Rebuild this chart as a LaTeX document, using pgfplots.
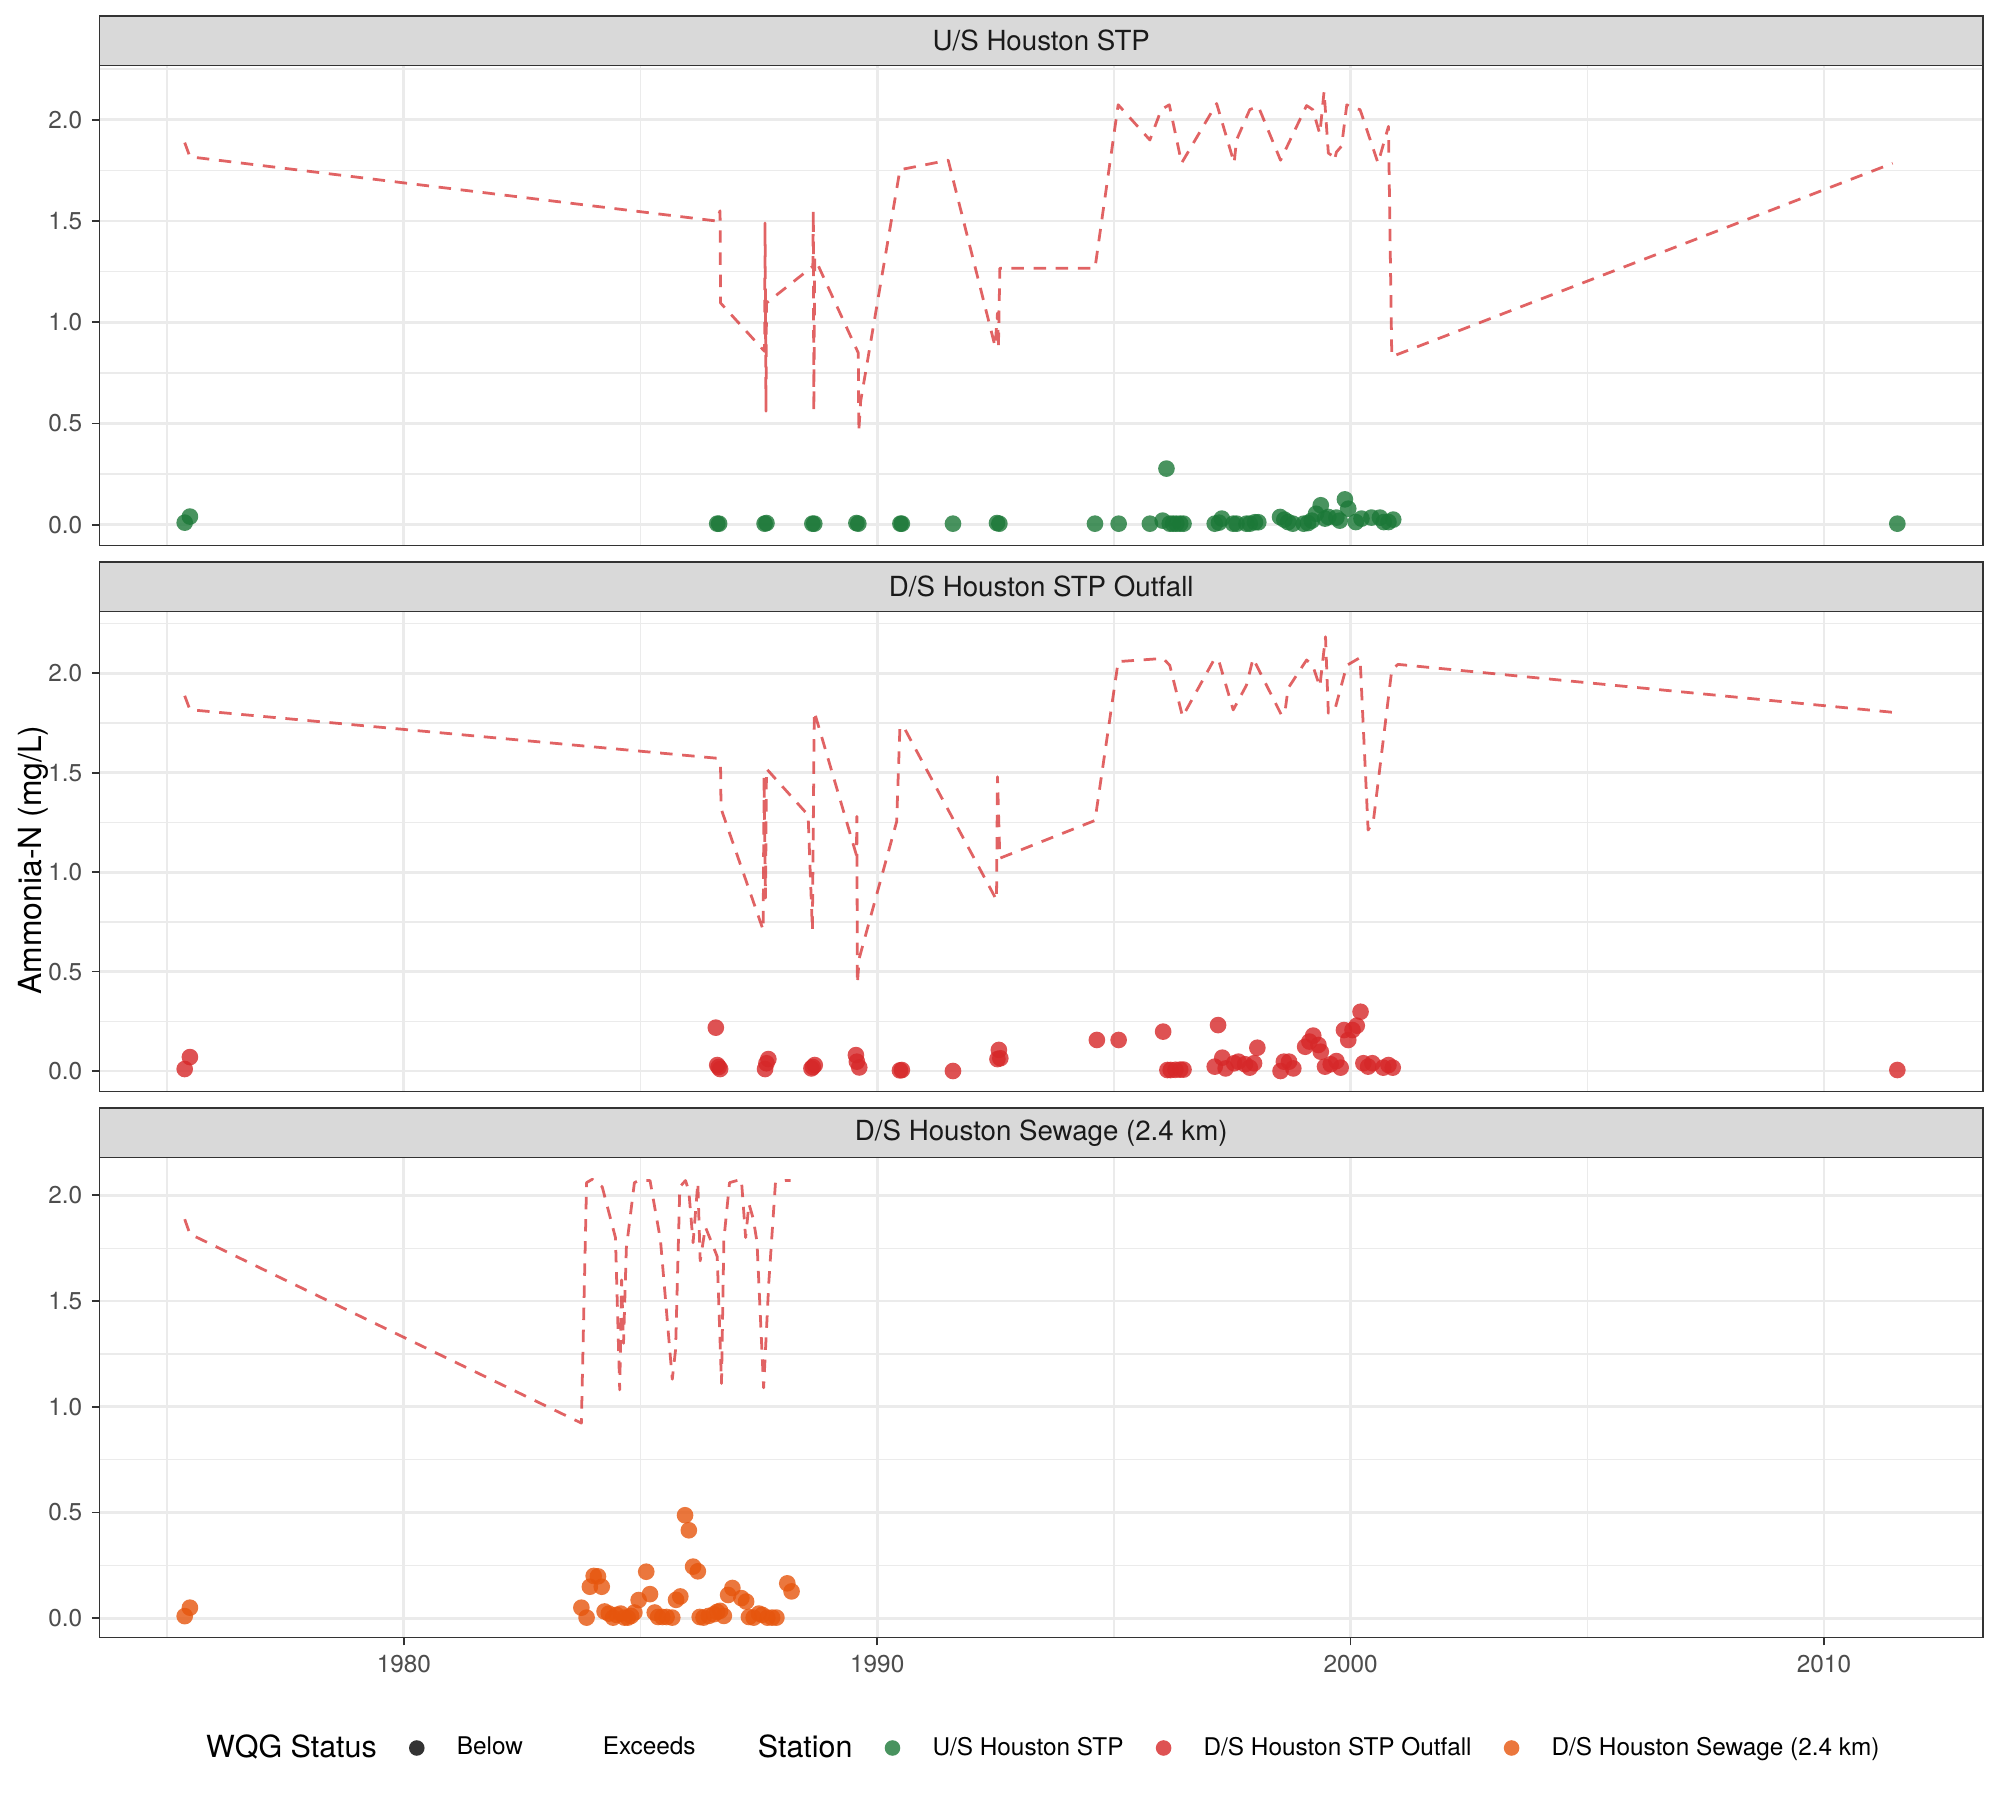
\documentclass[border=0pt]{standalone}
\usepackage{fontspec}
\setmainfont{TeX Gyre Heros}
\usepackage{pgfplots}
\pgfplotsset{compat=1.18}
\definecolor{grey10}{HTML}{1A1A1A}
\definecolor{grey20}{HTML}{333333}
\definecolor{grey30}{HTML}{4D4D4D}
\definecolor{grey85}{HTML}{D9D9D9}
\definecolor{grey92}{HTML}{EBEBEB}
\definecolor{usgreen}{HTML}{1B7837}
\definecolor{dsred}{HTML}{D62728}
\definecolor{sworange}{HTML}{E6550D}
\definecolor{wqgline}{HTML}{D62728}
\pgfplotsset{
  panel/.style={
    scale only axis, width=678.06bp, height=172.8bp, anchor=south west,
    xmin=1973.57, xmax=2013.36,
    axis line style={draw=grey20, line width=0.55pt},
    grid=both,
    major grid style={draw=grey92, line width=1pt},
    minor grid style={draw=grey92, line width=0.5pt},
    xtick={1980,1990,2000,2010},
    minor xtick={1975,1985,1995,2005},
    ytick={0,0.5,1,1.5,2},
    yticklabels={0.0,0.5,1.0,1.5,2.0},
    minor tick length=0pt,
    major tick length=2.75pt,
    tick align=outside,
    tick pos=left,
    tick style={draw=grey20, line width=0.6pt},
    tick label style={font=\fontsize{8.8}{10}\selectfont, text=grey30},
  },
  wqg/.style={color=wqgline, opacity=0.72, line width=1pt, dash pattern=on 4.5pt off 3.5pt, no markers, line cap=butt, line join=round},
  pts/.style={only marks, mark=*, mark size=3bp, mark options={fill=#1, draw=#1, fill opacity=0.8, draw opacity=0, line width=0pt}},
  dotkey/.style={legend image code/.code={\path[draw=none, fill=none] (0bp,0bp) -- (28.8bp,0bp); \path[draw=none, fill=#1, fill opacity=0.8] (14.4bp,0bp) circle (2.8bp);}},
  blankkey/.style={legend image code/.code={\path[draw=none, fill=none] (0bp,0bp) -- (28.8bp,0bp);}},
  nokey/.style={legend image code/.code={}},
}
\begin{document}
\begin{tikzpicture}
\useasboundingbox (0,0) rectangle (720bp,648bp);

% ---------------- Top panel: U/S Houston STP
\begin{axis}[panel, at={(35.82bp,451.55bp)}, ymin=-0.1037, ymax=2.267,
  minor ytick={0.25,0.75,1.25,1.75,2.25}, xticklabels={}, xtick style={draw=none}]
\addplot[wqg] coordinates {
(1975.37,1.887) (1975.48,1.817) (1986.60,1.50) (1986.68,1.55) (1986.69,1.095)
(1987.62,0.856) (1987.63,1.49) (1987.65,0.56) (1987.66,1.095) (1988.64,1.276)
(1988.65,1.55) (1988.66,0.56) (1988.68,1.317) (1989.60,0.848) (1989.61,0.46)
(1989.65,0.61) (1990.48,1.753) (1991.50,1.80) (1992.49,0.88) (1992.54,1.045)
(1992.56,0.87) (1992.59,1.267) (1994.60,1.267) (1995.09,2.074) (1995.76,1.90)
(1996.00,2.05) (1996.17,2.074) (1996.43,1.786) (1997.17,2.08) (1997.54,1.786)
(1997.59,1.90) (1997.87,2.05) (1998.05,2.066) (1998.52,1.80) (1999.07,2.07)
(1999.20,2.05) (1999.35,1.93) (1999.44,2.14) (1999.53,1.835) (1999.63,1.82)
(1999.66,1.80) (1999.70,1.84) (1999.81,1.87) (1999.92,2.074) (2000.02,2.06)
(2000.20,2.05) (2000.58,1.786) (2000.80,1.967) (2000.87,0.83) (2011.45,1.785)
};
\addplot[pts=usgreen] coordinates {
(1975.37,0.01) (1975.48,0.04) (1986.62,0.005) (1986.66,0.005) (1987.62,0.005)
(1987.66,0.008) (1988.63,0.005) (1988.67,0.005) (1989.56,0.008) (1989.60,0.005)
(1990.49,0.005) (1990.52,0.005) (1991.60,0.005) (1992.53,0.008) (1992.58,0.005)
(1994.60,0.005) (1995.10,0.005) (1995.76,0.005) (1996.03,0.02) (1996.11,0.277)
(1996.18,0.005) (1996.25,0.005) (1996.32,0.005) (1996.40,0.005) (1996.47,0.005)
(1997.13,0.005) (1997.22,0.01) (1997.28,0.03) (1997.52,0.005) (1997.59,0.005)
(1997.80,0.005) (1997.87,0.005) (1997.98,0.012) (1998.05,0.012) (1998.51,0.038)
(1998.60,0.025) (1998.68,0.013) (1998.78,0.005) (1999.01,0.005) (1999.10,0.008)
(1999.18,0.02) (1999.27,0.054) (1999.37,0.096) (1999.46,0.03) (1999.53,0.038)
(1999.70,0.035) (1999.77,0.02) (1999.88,0.125) (1999.95,0.079) (2000.11,0.013)
(2000.23,0.03) (2000.44,0.035) (2000.62,0.035) (2000.70,0.013) (2000.80,0.013)
(2000.90,0.025) (2011.55,0.005)
};
\end{axis}

% ---------------- Middle panel: D/S Houston STP Outfall
\begin{axis}[panel, at={(35.82bp,254.99bp)}, ymin=-0.104, ymax=2.310,
  minor ytick={0.25,0.75,1.25,1.75,2.25}, xticklabels={}, xtick style={draw=none}]
\addplot[wqg] coordinates {
(1975.37,1.887) (1975.48,1.817) (1986.61,1.573) (1986.69,1.539) (1986.70,1.32)
(1987.59,0.709) (1987.61,1.48) (1987.64,0.87) (1987.66,1.52) (1988.54,1.287)
(1988.63,0.709) (1988.67,1.807) (1989.56,1.086) (1989.57,1.28) (1989.58,0.44)
(1989.62,0.567) (1990.41,1.254) (1990.48,1.732) (1990.56,1.73) (1992.52,0.86)
(1992.54,1.48) (1992.59,1.07) (1994.60,1.26) (1995.09,2.059) (1996.04,2.075)
(1996.18,2.04) (1996.45,1.782) (1997.13,2.075) (1997.22,2.06) (1997.52,1.816)
(1997.80,1.94) (1997.94,2.075) (1998.54,1.79) (1998.61,1.80) (1998.68,1.925)
(1999.07,2.067) (1999.20,2.04) (1999.35,1.933) (1999.47,2.184) (1999.53,1.80)
(1999.67,1.82) (1999.92,2.04) (2000.20,2.079) (2000.37,1.212) (2000.48,1.254)
(2000.87,2.017) (2001.00,2.045) (2011.45,1.804)
};
\addplot[pts=dsred] coordinates {
(1975.37,0.01) (1975.48,0.07) (1986.59,0.218) (1986.62,0.03) (1986.65,0.02)
(1986.68,0.01) (1987.63,0.01) (1987.66,0.039) (1987.70,0.06) (1988.61,0.013)
(1988.64,0.02) (1988.68,0.03) (1989.55,0.08) (1989.57,0.047) (1989.62,0.018)
(1990.48,0.003) (1990.52,0.005) (1991.60,0.0) (1992.54,0.06) (1992.57,0.106)
(1992.60,0.064) (1994.64,0.156) (1995.10,0.156) (1996.04,0.198) (1996.13,0.005)
(1996.20,0.005) (1996.30,0.006) (1996.40,0.007) (1996.47,0.007) (1997.13,0.022)
(1997.20,0.231) (1997.29,0.067) (1997.36,0.013) (1997.54,0.039) (1997.63,0.047)
(1997.77,0.034) (1997.87,0.017) (1997.96,0.039) (1998.03,0.117) (1998.52,0.0)
(1998.59,0.047) (1998.70,0.047) (1998.79,0.013) (1999.04,0.122) (1999.13,0.148)
(1999.21,0.178) (1999.32,0.131) (1999.37,0.097) (1999.46,0.022) (1999.58,0.034)
(1999.70,0.05) (1999.79,0.017) (1999.86,0.206) (1999.95,0.156) (2000.04,0.206)
(2000.13,0.228) (2000.21,0.298) (2000.27,0.039) (2000.37,0.022) (2000.46,0.039)
(2000.69,0.017) (2000.80,0.03) (2000.89,0.017) (2011.55,0.005)
};
\end{axis}

% ---------------- Bottom panel: D/S Houston Sewage (2.4 km)
\begin{axis}[panel, at={(35.82bp,58.43bp)}, ymin=-0.092, ymax=2.178,
  minor ytick={0.25,0.75,1.25,1.75},
  xticklabels={1980,1990,2000,2010},
  legend columns=-1,
  legend cell align=left,
  legend style={draw=none, fill=none, inner sep=0pt, outer sep=0pt,
    at={(0.0566,-0.2298)}, anchor=west,
    font=\fontsize{8.8}{10}\selectfont,
    nodes={inner sep=0pt, outer sep=0pt},
    /tikz/column sep=0pt,
    /tikz/every even column/.style={column sep=0pt},
    /tikz/every odd column/.style={column sep=0pt}},
]
\addlegendimage{nokey}
\addlegendentry{\fontsize{11}{13}\selectfont WQG Status}
\addlegendimage{dotkey=black}
\addlegendentry{Below}
\addlegendimage{blankkey}
\addlegendentry{Exceeds\hspace*{22.4bp}}
\addlegendimage{nokey}
\addlegendentry{\fontsize{11}{13}\selectfont Station}
\addlegendimage{dotkey=usgreen}
\addlegendentry{U/S Houston STP}
\addlegendimage{dotkey=dsred}
\addlegendentry{D/S Houston STP Outfall}
\addlegendimage{dotkey=sworange}
\addlegendentry{D/S Houston Sewage (2.4 km)}
\addplot[wqg, forget plot] coordinates {
(1975.37,1.887) (1975.48,1.817) (1983.75,0.923) (1983.86,2.06) (1983.98,2.076)
(1984.19,2.04) (1984.47,1.80) (1984.52,1.40) (1984.56,1.08) (1984.60,1.60)
(1984.64,1.30) (1984.70,1.75) (1984.87,2.06) (1984.96,2.07) (1985.20,2.07)
(1985.42,1.79) (1985.67,1.13) (1985.74,1.27) (1985.83,2.04) (1985.95,2.07)
(1986.02,2.02) (1986.11,1.776) (1986.21,2.06) (1986.26,1.69) (1986.37,1.85)
(1986.55,1.75) (1986.62,1.71) (1986.71,1.11) (1986.76,1.79) (1986.88,2.06)
(1987.13,2.076) (1987.22,1.80) (1987.29,1.96) (1987.38,1.89) (1987.46,1.78)
(1987.60,1.09) (1987.71,1.59) (1987.85,2.06) (1988.06,2.07) (1988.17,2.07)
};
\addplot[pts=sworange, forget plot] coordinates {
(1975.37,0.01) (1975.48,0.05) (1983.75,0.05) (1983.86,0.003) (1983.93,0.149)
(1984.01,0.20) (1984.10,0.198) (1984.18,0.149) (1984.24,0.032) (1984.33,0.022)
(1984.42,0.003) (1984.49,0.016) (1984.58,0.022) (1984.66,0.003) (1984.73,0.003)
(1984.80,0.011) (1984.87,0.027) (1984.96,0.086) (1985.12,0.22) (1985.20,0.114)
(1985.30,0.027) (1985.37,0.006) (1985.46,0.006) (1985.55,0.006) (1985.67,0.003)
(1985.75,0.087) (1985.84,0.103) (1985.94,0.487) (1986.02,0.416) (1986.11,0.244)
(1986.21,0.222) (1986.25,0.006) (1986.33,0.003) (1986.44,0.011) (1986.55,0.019)
(1986.62,0.03) (1986.68,0.035) (1986.76,0.011) (1986.85,0.11) (1986.94,0.143)
(1987.13,0.095) (1987.23,0.079) (1987.29,0.006) (1987.39,0.003) (1987.50,0.022)
(1987.57,0.016) (1987.68,0.003) (1987.78,0.003) (1987.87,0.003) (1988.10,0.165)
(1988.19,0.127)
};
\end{axis}

% ---------------- Strips
\draw[fill=grey85, draw=grey20, line width=0.55pt] (35.82bp,624.35bp) rectangle (713.88bp,642.17bp);
\node[text=grey10, font=\fontsize{10}{12}\selectfont] at (374.85bp,633.26bp) {U/S Houston STP};
\draw[fill=grey85, draw=grey20, line width=0.55pt] (35.82bp,427.79bp) rectangle (713.88bp,445.61bp);
\node[text=grey10, font=\fontsize{10}{12}\selectfont] at (374.85bp,436.70bp) {D/S Houston STP Outfall};
\draw[fill=grey85, draw=grey20, line width=0.55pt] (35.82bp,231.23bp) rectangle (713.88bp,249.05bp);
\node[text=grey10, font=\fontsize{10}{12}\selectfont] at (374.85bp,240.14bp) {D/S Houston Sewage (2.4 km)};

% ---------------- Y axis title
\node[rotate=90, font=\fontsize{11.5}{13}\selectfont] at (11.9bp,338.4bp) {Ammonia-N (mg/L)};
\end{tikzpicture}
\end{document}
